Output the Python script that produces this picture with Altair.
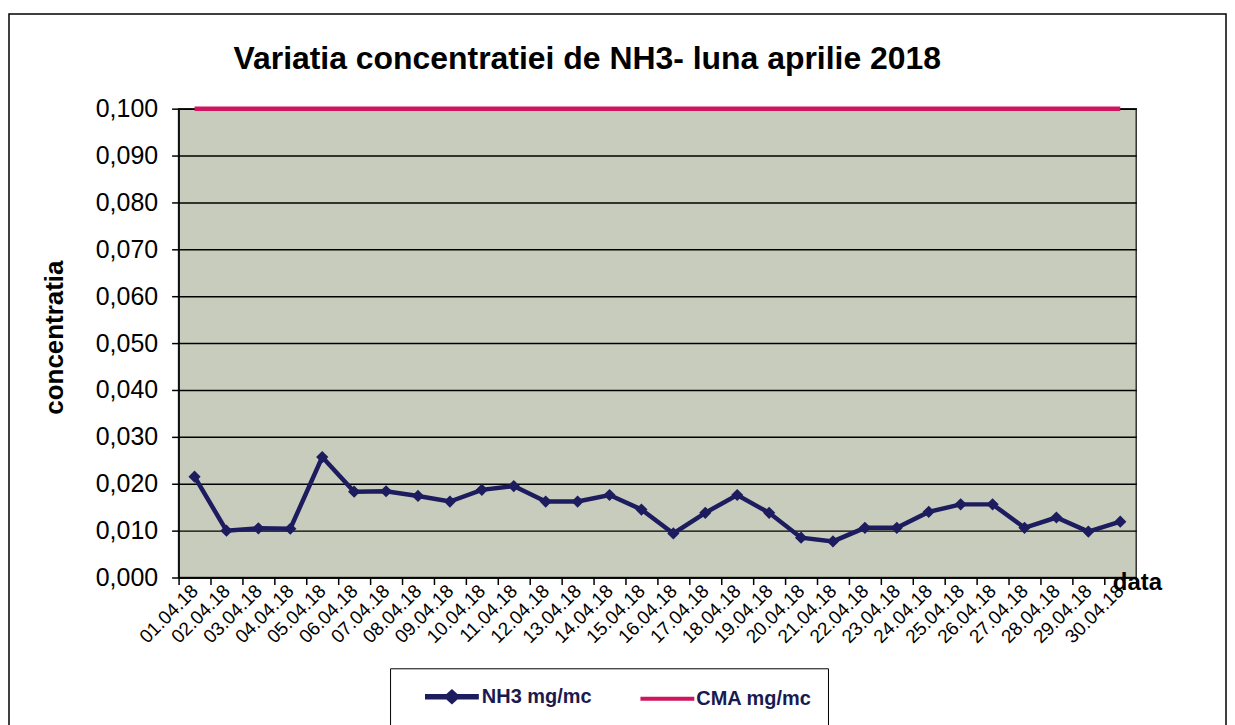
import altair as alt
import pandas as pd

dates = ["01.04.18", "02.04.18", "03.04.18", "04.04.18", "05.04.18", "06.04.18",
         "07.04.18", "08.04.18", "09.04.18", "10.04.18", "11.04.18", "12.04.18",
         "13.04.18", "14.04.18", "15.04.18", "16.04.18", "17.04.18", "18.04.18",
         "19.04.18", "20.04.18", "21.04.18", "22.04.18", "23.04.18", "24.04.18",
         "25.04.18", "26.04.18", "27.04.18", "28.04.18", "29.04.18", "30.04.18"]
nh3 = [0.0215, 0.0100, 0.0105, 0.0104, 0.0257, 0.0183, 0.0184, 0.0174, 0.0162, 0.0187,
       0.0195, 0.0162, 0.0162, 0.0176, 0.0145, 0.0094, 0.0138, 0.0176, 0.0138, 0.0085,
       0.0077, 0.0106, 0.0106, 0.0140, 0.0156, 0.0156, 0.0106, 0.0128, 0.0098, 0.0119]
cma = [0.100] * 30
series_names = ["NH3 mg/mc", "CMA mg/mc"]
series_colors = ["#1c1c5e", "#d0145e"]
y_ticks = [0.0, 0.01, 0.02, 0.03, 0.04, 0.05, 0.06, 0.07, 0.08, 0.09, 0.10]
title_text = "Variatia concentratiei de NH3- luna aprilie 2018"

W, H = 960, 470
FONT = "Liberation Sans"

df = pd.DataFrame({
    "data": dates * 2,
    "val": nh3 + cma,
    "serie": [series_names[0]] * 30 + [series_names[1]] * 30,
})
df_nh3 = df[df["serie"] == series_names[0]]

xenc = alt.X("data:O", sort=dates, scale=alt.Scale(type="band", paddingInner=0, paddingOuter=0),
             axis=alt.Axis(title="data", titleAngle=0, titleX=936, titleY=12, titleAlign="left",
                           titleBaseline="alphabetic", titleFontSize=24, titleFontWeight="bold",
                           titleFont=FONT, titleColor="black",
                           labelAngle=-45, labelAlign="right", labelBaseline="middle",
                           labelFontSize=19, labelFont=FONT, labelColor="black", labelPadding=3,
                           tickBand="extent", tickSize=7, tickColor="black", tickWidth=1.5,
                           domainColor="black", domainWidth=1.5, grid=False))
yenc = alt.Y("val:Q", scale=alt.Scale(domain=[0, 0.1], nice=False),
             axis=alt.Axis(title="concentratia", titleAngle=-90, titleX=-116, titleY=H / 2 - 6,
                           titleAlign="center", titleBaseline="alphabetic",
                           titleFontSize=26, titleFontWeight="bold", titleFont=FONT, titleColor="black",
                           values=y_ticks,
                           labelExpr="replace(format(datum.value, '.3f'), '.', ',')",
                           labelFontSize=25, labelFont=FONT, labelColor="black", labelPadding=14,
                           tickSize=7, tickColor="black", tickWidth=1.5,
                           domainColor="black", domainWidth=1.5,
                           grid=True, gridColor="black", gridWidth=1.5, gridOpacity=1))
color_scale = alt.Scale(domain=series_names, range=series_colors)
legend_shapes = ["M-3,0L3,0M-0.5,0L0,-0.45L0.5,0L0,0.45Z", "M-3,0L3,0"]
shape_scale = alt.Scale(domain=series_names, range=legend_shapes)

leg = alt.Legend(title=None, orient="none", legendX=212, legendY=561,
                 direction="horizontal", symbolOpacity=1,
                 symbolStrokeWidth=4, symbolOffset=34, symbolSize=324,
                 labelOffset=18, columnPadding=30,
                 labelFontSize=20, labelFontWeight="bold",
                 labelFont=FONT, labelColor="#1a1a50",
                 padding=16, strokeColor="black", fillColor="white",
                 labelLimit=300)
cenc = alt.Color("serie:N", scale=color_scale, legend=leg)

one = pd.DataFrame({"t": [title_text]})
border = alt.Chart(one).mark_rect(
    fillOpacity=0, stroke="black", strokeWidth=1.5
).encode(x=alt.value(-170), x2=alt.value(1050), y=alt.value(-95), y2=alt.value(640))

title = alt.Chart(one).mark_text(
    align="left", baseline="alphabetic", fontSize=32, font=FONT, fontWeight="bold", color="black"
).encode(x=alt.value(55), y=alt.value(-40), text="t:N")

lines = alt.Chart(df).mark_line(strokeWidth=4.5).encode(
    x=xenc, y=yenc, color=cenc,
    strokeWidth=alt.StrokeWidth("serie:N", scale=alt.Scale(domain=series_names, range=[5.5, 4]), legend=None),
)
points = alt.Chart(df_nh3).mark_point(shape="diamond", filled=True, size=150, opacity=1).encode(
    x=xenc, y=yenc, color=cenc,
)
carrier = alt.Chart(df).mark_point(opacity=0, filled=False, size=324).encode(
    x=xenc, y=yenc, color=cenc,
    shape=alt.Shape("serie:N", scale=shape_scale, legend=leg),
)

chart = alt.layer(border, title, lines, points, carrier).properties(
    width=W, height=H, background="white",
    padding={"left": 0, "top": 4, "right": 0, "bottom": 0},
).configure_view(fill="#c8ccbd", stroke="#333333", strokeWidth=1.5)

chart.save("out.html", embed_options={"renderer": "svg", "actions": False})
